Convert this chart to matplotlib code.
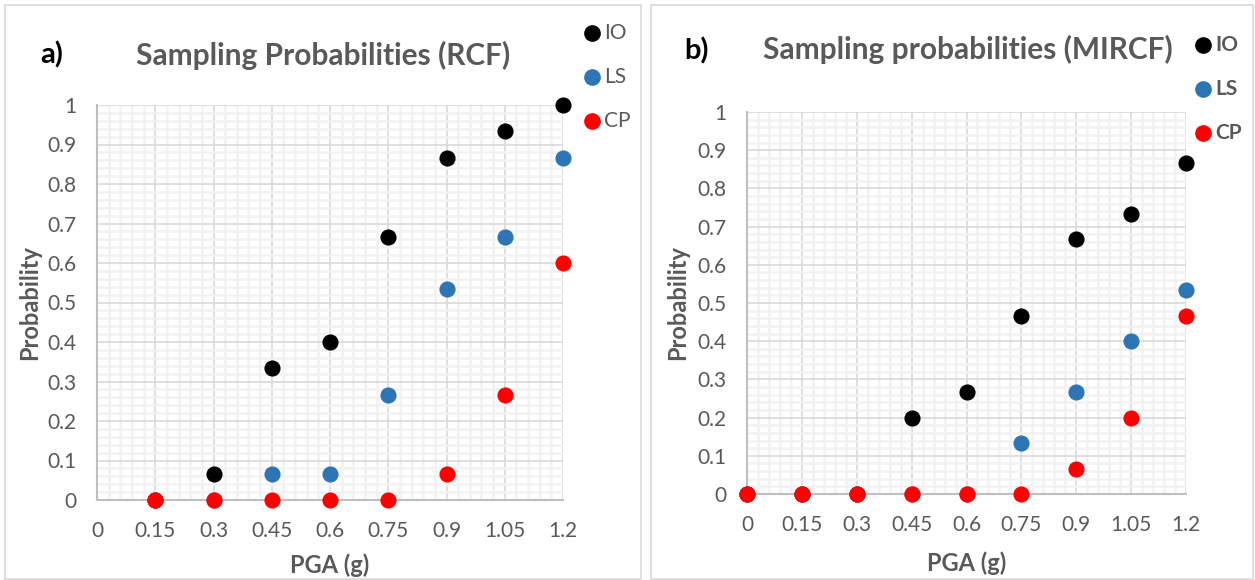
import matplotlib
matplotlib.use("Agg")
import matplotlib.pyplot as plt
from matplotlib.patches import Rectangle
from matplotlib.ticker import MultipleLocator, FixedLocator

plt.rcParams['font.family'] = ['Lato', 'DejaVu Sans']

# ---- data ----
pga_a = [0.15, 0.3, 0.45, 0.6, 0.75, 0.9, 1.05, 1.2]
io_a = [0, 0.0667, 0.333, 0.4, 0.667, 0.867, 0.933, 1.0]
ls_a = [0, 0, 0.0667, 0.0667, 0.267, 0.533, 0.667, 0.867]
cp_a = [0, 0, 0, 0, 0, 0.0667, 0.267, 0.6]

pga_b = [0, 0.15, 0.3, 0.45, 0.6, 0.75, 0.9, 1.05, 1.2]
io_b = [0, 0, 0, 0.2, 0.267, 0.467, 0.667, 0.733, 0.867]
ls_b = [0, 0, 0, 0, 0, 0.133, 0.267, 0.4, 0.533]
cp_b = [0, 0, 0, 0, 0, 0, 0.0667, 0.2, 0.467]

x_ticks = [0, 0.15, 0.3, 0.45, 0.6, 0.75, 0.9, 1.05, 1.2]
x_labels = ['0', '0.15', '0.3', '0.45', '0.6', '0.75', '0.9', '1.05', '1.2']
y_ticks = [0, 0.1, 0.2, 0.3, 0.4, 0.5, 0.6, 0.7, 0.8, 0.9, 1.0]
y_labels = ['0', '0.1', '0.2', '0.3', '0.4', '0.5', '0.6', '0.7', '0.8', '0.9', '1']
series_names = ['IO', 'LS', 'CP']
colors = ['#000000', '#2e75b6', '#ff0000']

TXT = '#595959'
W, H = 1255, 580
fig = plt.figure(figsize=(12.55, 5.8), dpi=100)

# panel borders
for (x0, x1) in [(5, 641), (651, 1253)]:
    fig.patches.append(Rectangle((x0 / W, 0.002), (x1 - x0) / W, 574 / H,
                                 transform=fig.transFigure, fill=False,
                                 edgecolor='#d9d9d9', linewidth=1.2))


def setup(ax, box, title, tag, tagpos, titlepos, bold_legend, legend_pos,
          ylab_x, xlab_y, data):
    left, top, right, bottom = box
    xs, ios, lss, cps = data
    ax.set_xlim(0, 1.2)
    ax.set_ylim(0, 1.0)
    ax.xaxis.set_major_locator(FixedLocator(x_ticks))
    ax.set_xticklabels(x_labels)
    ax.yaxis.set_major_locator(FixedLocator(y_ticks))
    ax.set_yticklabels(y_labels)
    ax.xaxis.set_minor_locator(MultipleLocator(0.03))
    ax.yaxis.set_minor_locator(MultipleLocator(0.02))
    ax.grid(which='minor', color='#f2f2f2', linewidth=1.8, zorder=0)
    ax.grid(which='major', color='#d9d9d9', linewidth=1.2, zorder=0)
    ax.set_axisbelow(True)
    ax.tick_params(which='both', length=0)
    ax.tick_params(axis='both', labelsize=15, labelcolor=TXT)
    ax.tick_params(axis='x', pad=15)
    ax.tick_params(axis='y', pad=15)
    for s in ['top', 'right']:
        ax.spines[s].set_visible(False)
    for s in ['left', 'bottom']:
        ax.spines[s].set_color('#bfbfbf')
        ax.spines[s].set_linewidth(1.5)
    ax.set_xlabel('PGA (g)', fontsize=17, fontweight='bold', color=TXT, va='center')
    ax.set_ylabel('Probability', fontsize=17, fontweight='bold', color=TXT, va='center')
    ax.xaxis.set_label_coords(0.5, (bottom - xlab_y) / (bottom - top))
    ax.yaxis.set_label_coords((ylab_x - left) / (right - left), 0.5)
    for vals, c in zip([ios, lss, cps], colors):
        ax.scatter(xs, vals, s=135, color=c, zorder=3, clip_on=False, linewidths=0)
    fig.text(titlepos[0] / W, 1 - titlepos[1] / H, title, fontsize=21.5, fontweight='bold',
             color=TXT, ha='center', va='center')
    fig.text(tagpos[0] / W, 1 - tagpos[1] / H, tag, fontsize=21, fontweight='bold',
             color='black', ha='center', va='center')
    lx, ly0, dy = legend_pos
    for i, (c, name) in enumerate(zip(colors, series_names)):
        y = 1 - (ly0 + i * dy) / H
        fig.lines.append(plt.Line2D([lx / W], [y], marker='o', markersize=11,
                                    color=c, linestyle='none', transform=fig.transFigure))
        fig.text((lx + 12) / W, y, name, fontsize=15,
                 fontweight='bold' if bold_legend else 'normal',
                 color=TXT, ha='left', va='center')


box_a = (97, 105, 563, 500)
ax1 = fig.add_axes([box_a[0] / W, 1 - box_a[3] / H, (box_a[2] - box_a[0]) / W,
                    (box_a[3] - box_a[1]) / H])
setup(ax1, box_a, 'Sampling Probabilities (RCF)', 'a)', (52, 55), (323, 55), False,
      (592, 33, 44), 30, 565, (pga_a, io_a, ls_a, cp_a))

box_b = (747, 112, 1186, 494)
ax2 = fig.add_axes([box_b[0] / W, 1 - box_b[3] / H, (box_b[2] - box_b[0]) / W,
                    (box_b[3] - box_b[1]) / H])
setup(ax2, box_b, 'Sampling probabilities (MIRCF)', 'b)', (697, 51), (968, 49), True,
      (1203, 45, 44), 678, 563, (pga_b, io_b, ls_b, cp_b))

fig.savefig('out.png', dpi=100)
